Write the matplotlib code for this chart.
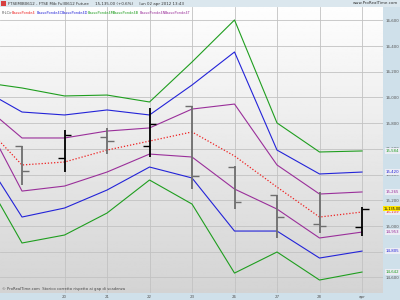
import matplotlib
matplotlib.use("Agg")
import matplotlib.pyplot as plt
import numpy as np
from matplotlib.patches import Rectangle

# trading days (index -1 = 16 mar, just left of the visible area)
days = [-1, 0, 1, 2, 3, 4, 5, 6, 7, 8]
day_labels = ["20", "21", "22", "23", "26", "27", "28", "apr"]
label_days = [1, 2, 3, 4, 5, 6, 7, 8]

# daily OHLC, 19 mar .. 02 apr
bar_days = [0, 1, 2, 3, 4, 5, 6, 7, 8]
opens = [15623, 15529, 15693, 15623, 15934, 15459, 15241, 15013, 14992]
highs = [15623, 15747, 15763, 15918, 15934, 15467, 15241, 15265, 15148]
lows = [15319, 15420, 15560, 15537, 15288, 15132, 14907, 14946, 14922]
closes = [15428, 15708, 15661, 15794, 15389, 15187, 15070, 15003, 15135]

# level lines
green_up = [16121, 16074, 16012, 16019, 15965, 16276, 16603, 15802, 15576, 15584]
blue_up = [16074, 15887, 15864, 15903, 15864, 16097, 16354, 15591, 15405, 15420]
purple_up = [15965, 15685, 15685, 15739, 15763, 15910, 15949, 15475, 15249, 15265]
middle = [15825, 15475, 15498, 15591, 15661, 15732, 15545, 15303, 15070, 15109]
purple_dn = [15903, 15272, 15311, 15420, 15560, 15537, 15288, 15132, 14907, 14953]
blue_dn = [15591, 15070, 15140, 15280, 15459, 15374, 14961, 14961, 14751, 14805]
green_dn = [15451, 14868, 14930, 15101, 15358, 15171, 14634, 14798, 14580, 14642]

legend_names = ["PrLCir", "BassoPonde4", "BassoPonde4C", "BassoPonde4D",
                "BassoPonde4M", "BassoPonde4B", "BassoPonde4N", "BassoPonde4T"]

GREEN = "#1f9e1f"
BLUE = "#2323d8"
PURPLE = "#9a2f9a"
RED = "#ee2020"
STRIP = "#cfe0ea"

fig = plt.figure(figsize=(4, 3), dpi=100)
fig.patch.set_facecolor(STRIP)
ax = fig.add_axes([0, 7 / 300, 383 / 400, 286 / 300])

xmin, xmax = -0.518, 8.494
ymin, ymax = 14479, 16704
grad = np.linspace(0.83, 0.995, 200)[:, None]
ax.imshow(grad, extent=[xmin, xmax, ymin, ymax], aspect="auto", cmap="gray",
          vmin=0, vmax=1, origin="lower", zorder=0)
ax.set_xlim(xmin, xmax)
ax.set_ylim(ymin, ymax)

for s in ax.spines.values():
    s.set_visible(False)

ax.set_yticks(np.arange(14600, 16601, 200))
ax.set_yticklabels([f"{v:,}" for v in range(14600, 16601, 200)])
ax.yaxis.tick_right()
ax.set_xticks(label_days)
ax.set_xticklabels(day_labels)
ax.tick_params(axis="both", length=0, labelsize=2.9, colors="#555555")
ax.tick_params(axis="y", pad=1.5)
ax.tick_params(axis="x", pad=1.2)
ax.grid(color="#c2c2c2", lw=0.6, zorder=1)
ax.set_axisbelow(True)

ax.plot(days, green_up, color=GREEN, lw=0.8, zorder=3)
ax.plot(days, blue_up, color=BLUE, lw=0.8, zorder=3)
ax.plot(days, purple_up, color=PURPLE, lw=0.8, zorder=3)
ax.plot(days, middle, color=RED, lw=0.9, ls=(0, (1, 1.5)), zorder=3)
ax.plot(days, purple_dn, color=PURPLE, lw=0.8, zorder=3)
ax.plot(days, blue_dn, color=BLUE, lw=0.8, zorder=3)
ax.plot(days, green_dn, color=GREEN, lw=0.8, zorder=3)

# OHLC bars: black up, grey down
for d, o, h, l, c in zip(bar_days, opens, highs, lows, closes):
    col = "black" if c > o else "#6e6e6e"
    ax.vlines(d, l, h, color=col, lw=1.3, zorder=4)
    ax.hlines(o, d - 0.16, d, color=col, lw=1.0, zorder=4)
    ax.hlines(c, d, d + 0.16, color=col, lw=1.0, zorder=4)

# last-value boxes on the price scale
tr = ax.get_yaxis_transform()
for vals, col in [(green_up, GREEN), (blue_up, BLUE), (purple_up, PURPLE),
                  (middle, RED), (purple_dn, PURPLE), (blue_dn, BLUE),
                  (green_dn, GREEN)]:
    ax.text(1.007, vals[-1], f"{vals[-1]:,}", transform=tr, fontsize=2.8,
            color=col, ha="left", va="center", zorder=6, clip_on=False,
            bbox=dict(boxstyle="square,pad=0.2", fc="#ececf4", ec="none"))
ax.text(1.002, closes[-1], f"{closes[-1]:,.2f}", transform=tr, fontsize=2.4,
        color="black", ha="left", va="center", zorder=7, clip_on=False,
        bbox=dict(boxstyle="square,pad=0.15", fc="#ffe600", ec="none"))

# legend row
lx = [0.004, 0.031, 0.096, 0.162, 0.228, 0.294, 0.364, 0.43]
lcol = ["#555555", RED, BLUE, BLUE, GREEN, GREEN, PURPLE, PURPLE]
for x, name, col in zip(lx, legend_names, lcol):
    ax.text(x, 0.987, name, transform=ax.transAxes, fontsize=2.5, color=col,
            ha="left", va="top", zorder=6)

ax.text(0.004, 0.008, "\u00a9 ProRealTime.com  Storico corretto rispetto ai gap di scadenza",
        transform=ax.transAxes, fontsize=2.7, color="#444444", ha="left",
        va="bottom", zorder=6)

# title bar
fig.patches.append(Rectangle((0, 1 - 7 / 300), 1, 7 / 300, transform=fig.transFigure,
                             fc="#dbe7ee", ec="none", zorder=0))
fig.patches.append(Rectangle((0.003, 1 - 6 / 300), 0.012, 5 / 300,
                             transform=fig.transFigure, fc="#d84040", ec="none"))
fig.text(0.02, 1 - 3.5 / 300,
         "FTSEMIB0612 - FTSE Mib Full0612 Future     15,135.00 (+0.6%)     lun 02 apr 2012 13:43",
         fontsize=2.9, color="#333333", ha="left", va="center")
fig.text(0.995, 1 - 3.5 / 300, "www.ProRealTime.com", fontsize=2.9,
         color="#333333", ha="right", va="center")

fig.savefig("out.png", dpi=100, facecolor=fig.get_facecolor())
